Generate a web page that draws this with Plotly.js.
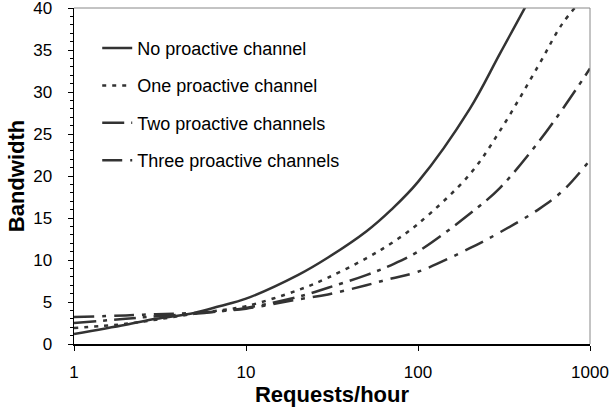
<!DOCTYPE html>
<html>
<head>
<meta charset="utf-8">
<script src="https://cdn.plot.ly/plotly-3.0.1.min.js"></script>
<style>html,body{margin:0;padding:0;background:#fff;}#chart{width:610px;height:410px;}</style>
</head>
<body>
<div id="chart"></div>
<script>
const requests = [1, 2, 3, 5, 7, 10, 20, 30, 50, 70, 100, 200, 300, 500, 700, 1000];
const noProactive    = [1.2, 2.3, 3.0, 3.7, 4.5, 5.4, 8.2, 10.3, 13.4, 16.0, 19.3, 28.0, 34.6, 43.0, 49.0, 56.0];
const oneProactive   = [1.9, 2.4, 2.9, 3.6, 4.0, 4.5, 6.4, 7.9, 10.2, 12.0, 14.3, 20.2, 25.4, 33.1, 38.3, 42.0];
const twoProactive   = [2.5, 3.0, 3.3, 3.6, 3.9, 4.3, 5.6, 6.7, 8.2, 9.4, 11.0, 15.5, 18.6, 24.0, 28.1, 32.8];
const threeProactive = [3.2, 3.4, 3.55, 3.7, 3.9, 4.2, 5.3, 5.9, 7.0, 7.8, 8.6, 11.4, 13.3, 16.0, 18.3, 21.9];
const seriesNames = ["No proactive channel", "One proactive channel", "Two proactive channels", "Three proactive channels"];
const xTickVals = [1, 10, 100, 1000];
const xTickText = ["1", "10", "100", "1000"];
const yTickVals = [0, 5, 10, 15, 20, 25, 30, 35, 40];

const lineColor = "#333333";
const styles = [
  {width: 2.5, dash: "solid"},
  {width: 2.5, dash: "4px,6px"},
  {width: 2.5, dash: "22px,7px,4px,7px"},
  {width: 2.5, dash: "20px,8px,4px,8px"}
];
const ys = [noProactive, oneProactive, twoProactive, threeProactive];

const traces = ys.map((y, i) => ({
  x: requests,
  y: y,
  name: seriesNames[i],
  type: "scatter",
  mode: "lines",
  line: {color: lineColor, width: styles[i].width, dash: styles[i].dash, shape: "spline", smoothing: 1},
  legendgroup: "g" + i
}));

const layout = {
  width: 610,
  height: 410,
  margin: {l: 74, r: 20, t: 8, b: 66},
  paper_bgcolor: "#ffffff",
  plot_bgcolor: "#ffffff",
  font: {family: "Liberation Sans, Arial, sans-serif", size: 17, color: "#000"},
  showlegend: true,
  legend: {
    x: 0.045, y: 0.935, xanchor: "left", yanchor: "top",
    bgcolor: "rgba(0,0,0,0)", borderwidth: 0,
    font: {size: 18, color: "#000"},
    traceorder: "grouped",
    tracegroupgap: 11,
    itemwidth: 30
  },
  xaxis: {
    type: "log",
    range: [0, 3],
    tickmode: "array",
    tickvals: xTickVals,
    ticktext: xTickText,
    ticks: "outside",
    ticklen: 5,
    tickcolor: "#000",
    showline: true,
    linecolor: "#000",
    linewidth: 1.5,
    showgrid: false,
    zeroline: false,
    ticklabelstandoff: 7,
    tickfont: {size: 17},
    title: {text: "<b>Requests/hour</b>", font: {size: 22}, standoff: 2}
  },
  yaxis: {
    range: [0, 40],
    tickmode: "array",
    tickvals: yTickVals,
    ticks: "outside",
    ticklen: 5,
    tickcolor: "#000",
    showline: true,
    linecolor: "#000",
    linewidth: 1.5,
    showgrid: false,
    zeroline: false,
    ticklabeloverflow: "allow",
    ticklabelstandoff: 12,
    tickfont: {size: 17},
    minor: {tickmode: "linear", tick0: 0, dtick: 1, ticks: "outside", ticklen: 3, tickcolor: "#000", showgrid: false},
    title: {text: "<b>Bandwidth</b>", font: {size: 22}, standoff: 2}
  },
  shapes: [
    {type: "line", xref: "paper", yref: "paper", x0: 0, x1: 1, y0: 1, y1: 1, line: {color: "#888", width: 1}},
    {type: "line", xref: "paper", yref: "paper", x0: 1, x1: 1, y0: 0, y1: 1, line: {color: "#888", width: 1}}
  ]
};

Plotly.newPlot("chart", traces, layout, {displayModeBar: false, staticPlot: true});
</script>
</body>
</html>
